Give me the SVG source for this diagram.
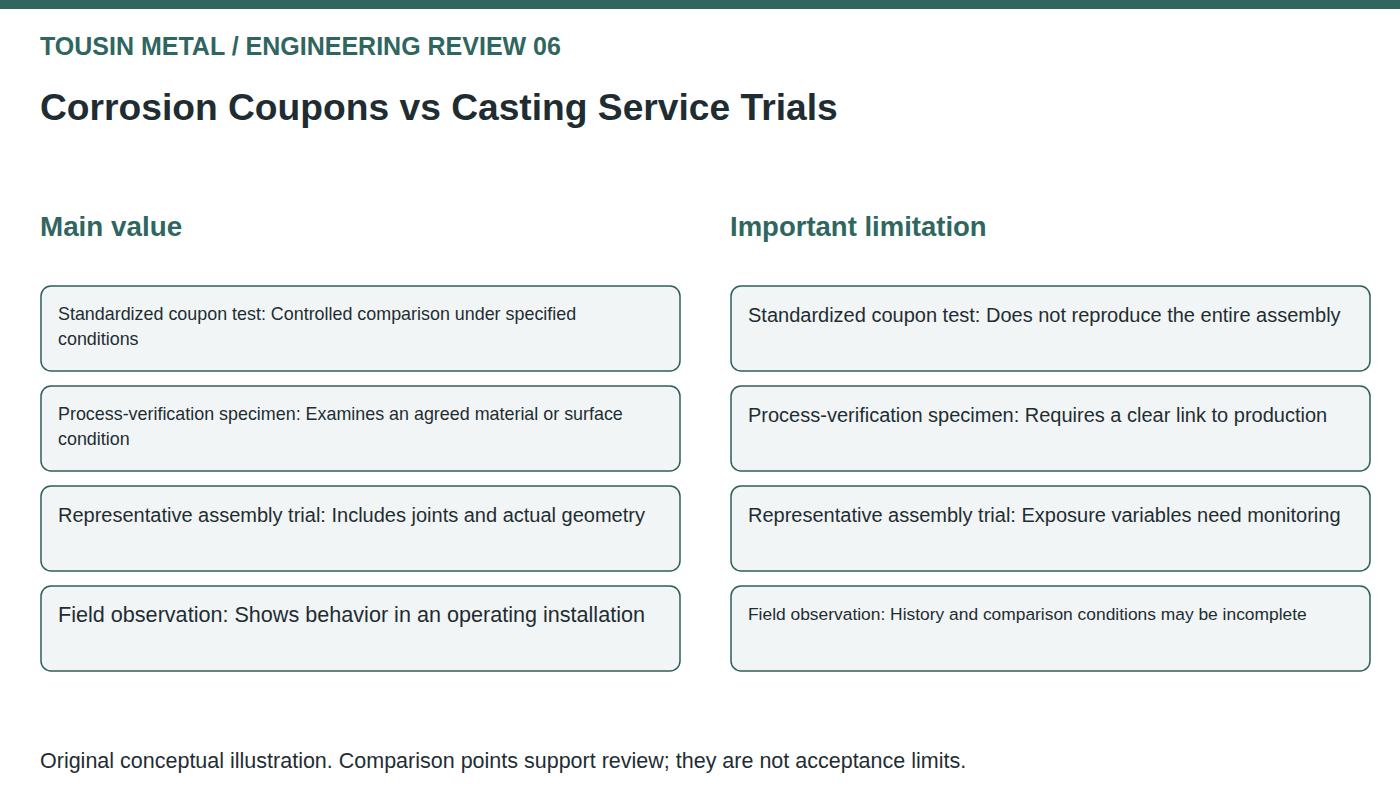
<svg xmlns="http://www.w3.org/2000/svg" width="1400" height="800" viewBox="0 0 1400 800">
<style>
text{font-family:"Liberation Sans",Arial,sans-serif;fill:#1f2d33}
.acc{fill:#2f6660;font-weight:bold}
.box{fill:#f1f5f5;stroke:#2f5f58;stroke-width:1.5}
</style>
<rect x="0" y="0" width="1400" height="9" fill="#2f6660"/>
<rect x="0" y="9" width="1400" height="791" fill="#fff"/>
<text class="acc" x="40" y="55" font-size="25">TOUSIN METAL / ENGINEERING REVIEW 06</text>
<text x="40" y="120" font-size="37.2" font-weight="bold">Corrosion Coupons vs Casting Service Trials</text>
<text class="acc" x="40" y="236" font-size="27.8">Main value</text>
<text class="acc" x="730" y="236" font-size="27.5">Important limitation</text>
<g id="l1"><rect class="box" x="41" y="286" width="639" height="85" rx="10"/><text x="58" y="320" font-size="17.9">Standardized coupon test: Controlled comparison under specified</text><text x="58" y="345" font-size="17.9">conditions</text></g>
<g id="l2"><rect class="box" x="41" y="386" width="639" height="85" rx="10"/><text x="58" y="420" font-size="17.9">Process-verification specimen: Examines an agreed material or surface</text><text x="58" y="445" font-size="17.9">condition</text></g>
<g id="l3"><rect class="box" x="41" y="486" width="639" height="85" rx="10"/><text x="58" y="522" font-size="20">Representative assembly trial: Includes joints and actual geometry</text></g>
<g id="l4"><rect class="box" x="41" y="586" width="639" height="85" rx="10"/><text x="58" y="622" font-size="21.6">Field observation: Shows behavior in an operating installation</text></g>
<g id="r1"><rect class="box" x="731" y="286" width="639" height="85" rx="10"/><text x="748" y="322" font-size="20">Standardized coupon test: Does not reproduce the entire assembly</text></g>
<g id="r2"><rect class="box" x="731" y="386" width="639" height="85" rx="10"/><text x="748" y="422" font-size="20">Process-verification specimen: Requires a clear link to production</text></g>
<g id="r3"><rect class="box" x="731" y="486" width="639" height="85" rx="10"/><text x="748" y="522" font-size="20">Representative assembly trial: Exposure variables need monitoring</text></g>
<g id="r4"><rect class="box" x="731" y="586" width="639" height="85" rx="10"/><text x="748" y="620" font-size="17.4">Field observation: History and comparison conditions may be incomplete</text></g>
<g id="connectors"/>
<text x="40" y="768" font-size="21.5">Original conceptual illustration. Comparison points support review; they are not acceptance limits.</text>
</svg>
